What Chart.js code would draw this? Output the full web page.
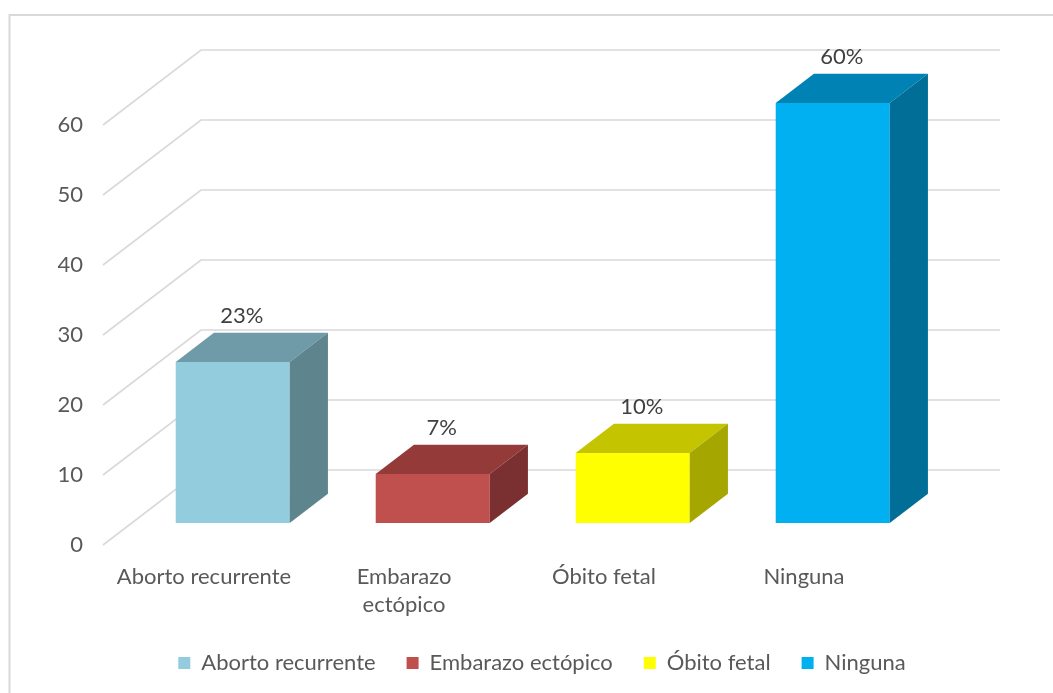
<!DOCTYPE html>
<html lang="es">
<head>
<meta charset="utf-8">
<title>Antecedentes obstétricos</title>
<script src="https://cdn.jsdelivr.net/npm/chart.js@4.4.1/dist/chart.umd.min.js"></script>
<style>
  html, body { margin: 0; padding: 0; background: #ffffff; }
  #wrap { width: 1053px; height: 693px; }
</style>
</head>
<body>
<div id="wrap"><canvas id="chart" width="1053" height="693"></canvas></div>
<script>
// Categories, values (percent) and axis labels
const categories = ['Aborto recurrente', 'Embarazo ectópico', 'Óbito fetal', 'Ninguna'];
const axisLabels = ['Aborto recurrente', ['Embarazo', 'ectópico'], 'Óbito fetal', 'Ninguna'];
const values = [23, 7, 10, 60];
const yTicks = [0, 10, 20, 30, 40, 50, 60];

// Face colours of each box: front, top, right side
const frontColors = ['#93CDDD', '#C0504D', '#FFFF00', '#00B0F0'];
const topColors   = ['#6F9AA7', '#943B39', '#C4C400', '#0083B4'];
const sideColors  = ['#5E848D', '#7A3030', '#A6A600', '#006E96'];

const FONT = 'Lato, "Open Sans", sans-serif';
const TEXT = '#595959';
const GRID = '#D9D9D9';

// Perspective: full depth of the floor, bar front offset and bar depth
const DEPTH = { x: 98, y: -75 };
const BAR_FRONT = 0.293;
const BAR_DEPTH = 0.39;

const framePlugin = {
  id: 'frame',
  beforeDraw(chart) {
    const ctx = chart.ctx;
    ctx.save();
    ctx.fillStyle = '#ffffff';
    ctx.fillRect(0, 0, chart.width, chart.height);
    ctx.strokeStyle = GRID;
    ctx.lineWidth = 2;
    ctx.strokeRect(9.5, 15, chart.width + 20, chart.height + 20);
    ctx.restore();
  }
};

const wallPlugin = {
  id: 'walls',
  beforeDatasetsDraw(chart) {
    const { ctx, chartArea, scales } = chart;
    const y = scales.y;
    ctx.save();
    ctx.strokeStyle = GRID;
    ctx.lineWidth = 1.6;
    yTicks.forEach(v => {
      const py = y.getPixelForValue(v);
      const x0 = chartArea.left - 1;
      ctx.beginPath();
      ctx.moveTo(x0, py);
      ctx.lineTo(x0 + DEPTH.x, py + DEPTH.y);
      ctx.lineTo(chartArea.right + DEPTH.x - 2, py + DEPTH.y);
      ctx.stroke();
    });
    ctx.restore();
    // Bars sit partway back in the box
    ctx.save();
    ctx.translate(DEPTH.x * BAR_FRONT, DEPTH.y * BAR_FRONT);
  },
  afterDatasetsDraw(chart) {
    const ctx = chart.ctx;
    const meta = chart.getDatasetMeta(0);
    const dx = DEPTH.x * BAR_DEPTH, dy = DEPTH.y * BAR_DEPTH;
    meta.data.forEach((bar, i) => {
      const { x, y, base, width } = bar.getProps(['x', 'y', 'base', 'width'], true);
      const l = x - width / 2, r = x + width / 2;
      // top face
      ctx.fillStyle = topColors[i];
      ctx.beginPath();
      ctx.moveTo(l, y);
      ctx.lineTo(l + dx, y + dy);
      ctx.lineTo(r + dx, y + dy);
      ctx.lineTo(r, y);
      ctx.closePath();
      ctx.fill();
      // right side face
      ctx.fillStyle = sideColors[i];
      ctx.beginPath();
      ctx.moveTo(r, y);
      ctx.lineTo(r + dx, y + dy);
      ctx.lineTo(r + dx, base + dy);
      ctx.lineTo(r, base);
      ctx.closePath();
      ctx.fill();
    });
    // value labels above the boxes
    ctx.fillStyle = '#404040';
    ctx.font = '22px ' + FONT;
    ctx.textAlign = 'center';
    ctx.textBaseline = 'middle';
    meta.data.forEach((bar, i) => {
      const { x, y } = bar.getProps(['x', 'y'], true);
      ctx.fillText(values[i] + '%', x + 9, y - 46);
    });
    ctx.restore();
  }
};

new Chart(document.getElementById('chart'), {
  type: 'bar',
  data: {
    labels: axisLabels,
    datasets: [{
      data: values,
      backgroundColor: frontColors,
      borderWidth: 0,
      categoryPercentage: 1,
      barPercentage: 0.57,
      clip: false
    }]
  },
  options: {
    responsive: false,
    animation: false,
    layout: { padding: { left: 31, right: 0, top: 125, bottom: 9 } },
    scales: {
      x: {
        grid: { display: false, drawTicks: false },
        border: { display: false },
        ticks: {
          color: TEXT,
          font: { family: FONT, size: 22, lineHeight: 1.2727 },
          padding: 18,
          autoSkip: false,
          maxRotation: 0,
          minRotation: 0
        },
        afterFit(s) { s.height = 76; }
      },
      y: {
        position: 'left',
        min: 0,
        max: 60,
        grid: { display: false, drawTicks: false },
        border: { display: false },
        ticks: {
          stepSize: 10,
          color: TEXT,
          font: { family: FONT, size: 22 },
          padding: 21
        },
        afterFit(s) { s.width = 73; }
      },
      yRight: {
        position: 'right',
        display: true,
        grid: { display: false, drawTicks: false },
        border: { display: false },
        ticks: { display: false },
        afterFit(s) { s.width = 149; }
      }
    },
    plugins: {
      tooltip: { enabled: false },
      legend: {
        position: 'bottom',
        labels: {
          boxWidth: 12,
          boxHeight: 12,
          padding: 31,
          color: TEXT,
          font: { family: FONT, size: 22 },
          generateLabels() {
            return categories.map((c, i) => ({
              text: c,
              fillStyle: frontColors[i],
              strokeStyle: frontColors[i],
              lineWidth: 0,
              fontColor: TEXT,
              hidden: false,
              index: i,
              datasetIndex: 0
            }));
          }
        }
      }
    }
  },
  plugins: [framePlugin, wallPlugin]
});
</script>
</body>
</html>
